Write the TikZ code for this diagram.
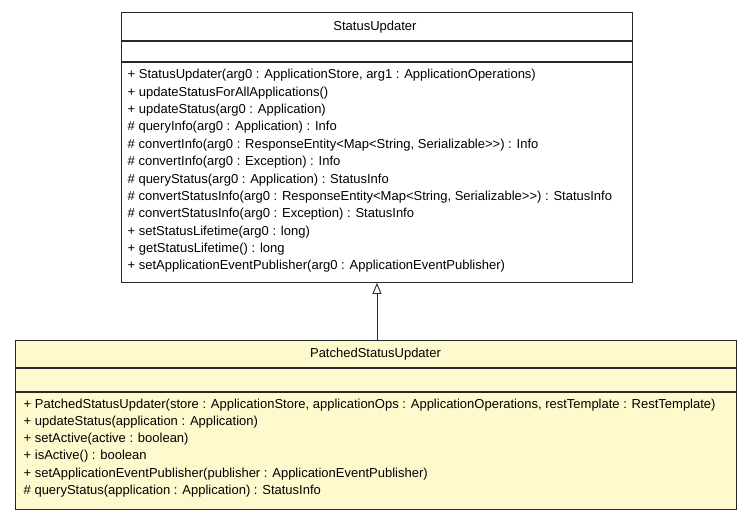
\documentclass[tikz,border=0pt]{standalone}
\usepackage{fontspec}
\setmainfont{Liberation Sans}
\usetikzlibrary{arrows.meta}
\definecolor{classfill}{RGB}{255,250,205}
\definecolor{linecol}{RGB}{40,40,40}
\tikzset{
  classbox/.style={draw=linecol, line width=0.9pt, inner sep=0pt, anchor=north west},
  sepline/.style={draw=linecol, line width=1.3pt},
  title/.style={font=\fontsize{13}{15}\selectfont, inner sep=0pt},
  member/.style={font=\fontsize{13}{15}\selectfont, inner sep=0pt, anchor=west},
  inherit/.style={draw=linecol, line width=0.9pt, -{Triangle[open, length=11pt, width=9pt]}}
}
\begin{document}
\begin{tikzpicture}[x=1pt,y=-1pt]
\useasboundingbox (0,0) rectangle (752,515);
% top class
\node[classbox, fill=white, minimum width=511pt, minimum height=270pt] (sup) at (121,12) {};
\draw[sepline] (121,41) -- (632,41);
\draw[sepline] (121,62) -- (632,62);
\node[title] (suptitle) at (375,27) {StatusUpdater};
\node[member] (m1) at (127.5,75.5) {+ StatusUpdater(arg0 : ApplicationStore, arg1 : ApplicationOperations)};
\node[member] (m2) at (127.5,92.9) {+ updateStatusForAllApplications()};
\node[member] (m3) at (127.5,110.2) {+ updateStatus(arg0 : Application)};
\node[member] (m4) at (127.5,127.6) {\# queryInfo(arg0 : Application) : Info};
\node[member] (m5) at (127.5,144.9) {\# convertInfo(arg0 : ResponseEntity<Map<String, Serializable>{}>) : Info};
\node[member] (m6) at (127.5,162.3) {\# convertInfo(arg0 : Exception) : Info};
\node[member] (m7) at (127.5,179.7) {\# queryStatus(arg0 : Application) : StatusInfo};
\node[member] (m8) at (127.5,197) {\# convertStatusInfo(arg0 : ResponseEntity<Map<String, Serializable>{}>) : StatusInfo};
\node[member] (m9) at (127.5,214.4) {\# convertStatusInfo(arg0 : Exception) : StatusInfo};
\node[member] (m10) at (127.5,231.7) {+ setStatusLifetime(arg0 : long)};
\node[member] (m11) at (127.5,249.1) {+ getStatusLifetime() : long};
\node[member] (m12) at (127.5,266.5) {+ setApplicationEventPublisher(arg0 : ApplicationEventPublisher)};
% bottom class
\node[classbox, fill=classfill, minimum width=721pt, minimum height=169pt] (sub) at (15,340) {};
\draw[sepline] (15,368) -- (736,368);
\draw[sepline] (15,392) -- (736,392);
\node[title] (subtitle) at (375.5,354) {PatchedStatusUpdater};
\node[member] (p1) at (23.5,405) {+ PatchedStatusUpdater(store : ApplicationStore, applicationOps : ApplicationOperations, restTemplate : RestTemplate)};
\node[member] (p2) at (23.5,422.2) {+ updateStatus(application : Application)};
\node[member] (p3) at (23.5,439.4) {+ setActive(active : boolean)};
\node[member] (p4) at (23.5,456.6) {+ isActive() : boolean};
\node[member] (p5) at (23.5,473.8) {+ setApplicationEventPublisher(publisher : ApplicationEventPublisher)};
\node[member] (p6) at (23.5,491) {\# queryStatus(application : Application) : StatusInfo};
% inheritance
\draw[inherit] (sub.north -| sup.south) -- (sup.south);
\end{tikzpicture}
\end{document}
